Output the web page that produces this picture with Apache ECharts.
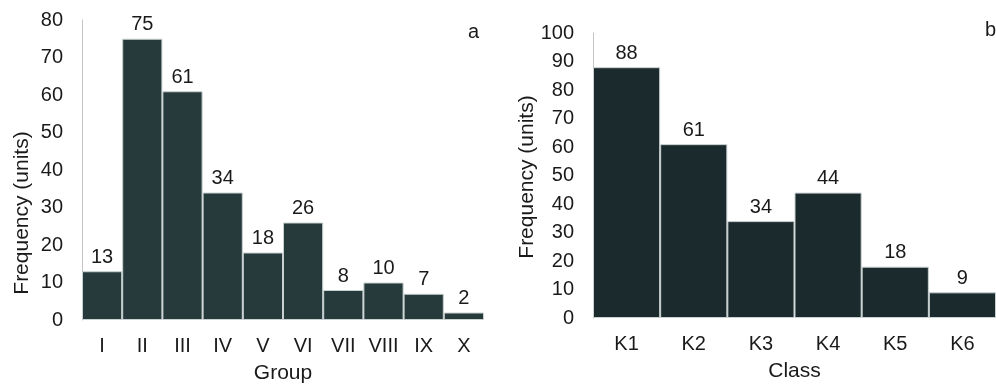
<!DOCTYPE html>
<html>
<head>
<meta charset="utf-8">
<script src="https://cdn.jsdelivr.net/npm/echarts@6/dist/echarts.min.js"></script>
<style>
  html, body { margin: 0; padding: 0; background: #fff; }
  #chart { width: 996px; height: 385px; }
</style>
</head>
<body>
<div id="chart"></div>
<script>
// Panel a: frequency by group
const groupCategories = ['I', 'II', 'III', 'IV', 'V', 'VI', 'VII', 'VIII', 'IX', 'X'];
const groupValues = [13, 75, 61, 34, 18, 26, 8, 10, 7, 2];

// Panel b: frequency by class
const classCategories = ['K1', 'K2', 'K3', 'K4', 'K5', 'K6'];
const classValues = [88, 61, 34, 44, 18, 9];

const FONT = 'Liberation Sans, Arial, sans-serif';
const TEXT = '#1a1a1a';

function xAxisFor(cats, name, gridIndex) {
  return {
    type: 'category',
    gridIndex: gridIndex,
    data: cats,
    name: name,
    nameLocation: 'middle',
    nameGap: 43,
    nameTextStyle: { fontFamily: FONT, fontSize: 21, color: TEXT },
    axisLine: { show: false },
    axisTick: { show: false },
    axisLabel: { fontFamily: FONT, fontSize: 20, color: TEXT, margin: 16 }
  };
}

function yAxisFor(max, gridIndex) {
  return {
    type: 'value',
    gridIndex: gridIndex,
    min: 0,
    max: max,
    interval: 10,
    axisLine: { show: true, lineStyle: { color: '#c4c4c4', width: 1 } },
    axisTick: { show: false },
    splitLine: { show: false },
    axisLabel: { fontFamily: FONT, fontSize: 20, color: TEXT, margin: 19 }
  };
}

function barSeries(values, idx, color) {
  return {
    type: 'bar',
    xAxisIndex: idx,
    yAxisIndex: idx,
    data: values,
    barCategoryGap: 0,
    barGap: 0,
    itemStyle: { color: color, borderColor: '#c8d0d0', borderWidth: 1 },
    label: {
      show: true,
      position: 'top',
      distance: 4,
      fontFamily: FONT,
      fontSize: 20,
      color: TEXT
    },
    animation: false
  };
}

// Rotated y-axis title placed beside each panel
function yTitle(cx, cy) {
  return {
    type: 'text',
    x: cx,
    y: cy,
    rotation: Math.PI / 2,
    style: {
      text: 'Frequency (units)',
      fontFamily: FONT,
      fontSize: 21,
      fill: TEXT,
      align: 'center',
      verticalAlign: 'middle'
    }
  };
}

const chart = echarts.init(document.getElementById('chart'), null, { renderer: 'canvas' });
chart.setOption({
  backgroundColor: '#ffffff',
  animation: false,
  title: [
    { text: 'a', left: 463, top: 17, textStyle: { fontFamily: FONT, fontSize: 20, fontWeight: 'normal', color: TEXT } },
    { text: 'b', left: 980, top: 15, textStyle: { fontFamily: FONT, fontSize: 20, fontWeight: 'normal', color: TEXT } }
  ],
  grid: [
    { left: 82, right: 512, top: 20, bottom: 65, containLabel: false, outerBoundsMode: 'none' },
    { left: 593, right: 0, top: 33, bottom: 67, containLabel: false, outerBoundsMode: 'none' }
  ],
  xAxis: [
    xAxisFor(groupCategories, 'Group', 0),
    xAxisFor(classCategories, 'Class', 1)
  ],
  yAxis: [
    yAxisFor(80, 0),
    yAxisFor(100, 1)
  ],
  graphic: [
    yTitle(22, 213),
    yTitle(527, 177)
  ],
  series: [
    barSeries(groupValues, 0, '#263a3b'),
    barSeries(classValues, 1, '#1b2a2d')
  ]
});
</script>
</body>
</html>
